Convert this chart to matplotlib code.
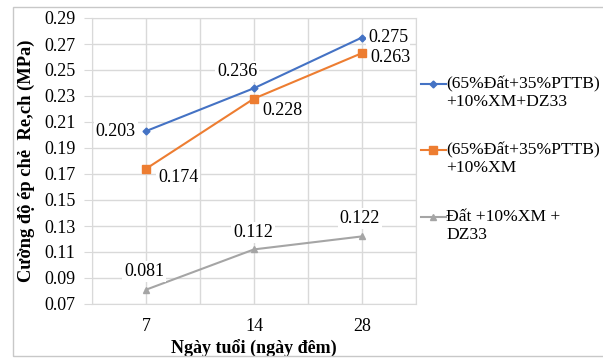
import matplotlib
matplotlib.use("Agg")
import matplotlib.pyplot as plt
from matplotlib.patches import Rectangle
import numpy as np

plt.rcParams['font.family'] = ['Liberation Serif', 'DejaVu Serif']

days = ["7", "14", "28"]
s_dz33 = [0.203, 0.236, 0.275]
s_xm = [0.174, 0.228, 0.263]
s_dat = [0.081, 0.112, 0.122]
labels = ["(65%Đất+35%PTTB)\n+10%XM+DZ33", "(65%Đất+35%PTTB)\n+10%XM", "Đất +10%XM +\nDZ33"]
colors = ["#4472C4", "#ED7D31", "#A5A5A5"]
markers = ["D", "s", "^"]
msizes = [3.5, 5.5, 5]
# label offsets in pixels (dx, dy, ha, va) for each point
offsets = [
    [(-10, 0, "right", "center"), (-17, 17, "center", "center"), (6, 0, "left", "center")],
    [(12, -9, "left", "center"), (8, -12, "left", "center"), (8, -4, "left", "center")],
    [(-2, 18, "center", "center"), (-1, 17, "center", "center"), (-2, 18, "center", "center")],
]

fs = 13
fig = plt.figure(figsize=(6.03, 3.59), dpi=100)
ax = fig.add_axes([92 / 603, 1 - 304 / 359, (416 - 92) / 603, (304 - 18) / 359])

# outer frame of the chart
fig.patches.append(Rectangle((13 / 603, 3 / 359), 1.2, 349 / 359, transform=fig.transFigure,
                             fill=False, edgecolor="#c8c8c8", linewidth=1.0))

x = np.arange(1, len(days) + 1)
series = [s_dz33, s_xm, s_dat]
handles = []
for n, ys in enumerate(series):
    # leading blank line puts the legend handle level with the first text line
    h, = ax.plot(x, ys, color=colors[n], marker=markers[n], markersize=msizes[n], linewidth=1.5,
                 label=" \n" + labels[n])
    handles.append(h)
    for i, v in enumerate(ys):
        dx, dy, ha, va = offsets[n][i]
        ax.annotate(f"{v:.3f}", xy=(x[i], v), xytext=(dx, dy), textcoords="offset pixels",
                    ha=ha, va=va, fontsize=fs,
                    bbox=dict(boxstyle="square,pad=0.1", facecolor="white", edgecolor="none"))

ax.set_xlim(0.5, 3.5)
ax.set_ylim(0.07, 0.29)
ax.set_yticks(np.arange(0.07, 0.2901, 0.02))
ax.set_yticklabels([f"{t:.2f}" for t in np.arange(0.07, 0.2901, 0.02)], fontsize=fs)
ax.set_xticks(x)
ax.set_xticklabels(days, fontsize=fs)
ax.set_xticks([0.5, 1.5, 2.5, 3.5], minor=True)
ax.grid(True, which="both", color="#d9d9d9", linewidth=1.0)
ax.set_axisbelow(True)
ax.tick_params(axis="y", length=6, color="#d9d9d9", pad=6)
ax.tick_params(axis="x", which="both", length=0, pad=10)
for sp in ax.spines.values():
    sp.set_color("#d9d9d9")

ax.set_xlabel("Ngày tuổi (ngày đêm)", fontsize=fs, fontweight="bold", labelpad=4)
ax.set_ylabel("Cường độ ép chẻ  Re,ch (MPa)", fontsize=13.3, fontweight="bold")
ax.yaxis.set_label_coords(-0.177, 0.5)

leg = fig.legend(handles=handles, loc="upper left", bbox_to_anchor=(414 / 603, 1 - 51 / 359),
                 frameon=False, fontsize=12.6, handlelength=1.4, handletextpad=0.05,
                 labelspacing=0.85, borderaxespad=0)
for t in leg.get_texts():
    t.set_linespacing(1.15)

fig.savefig("out.png", dpi=100)
